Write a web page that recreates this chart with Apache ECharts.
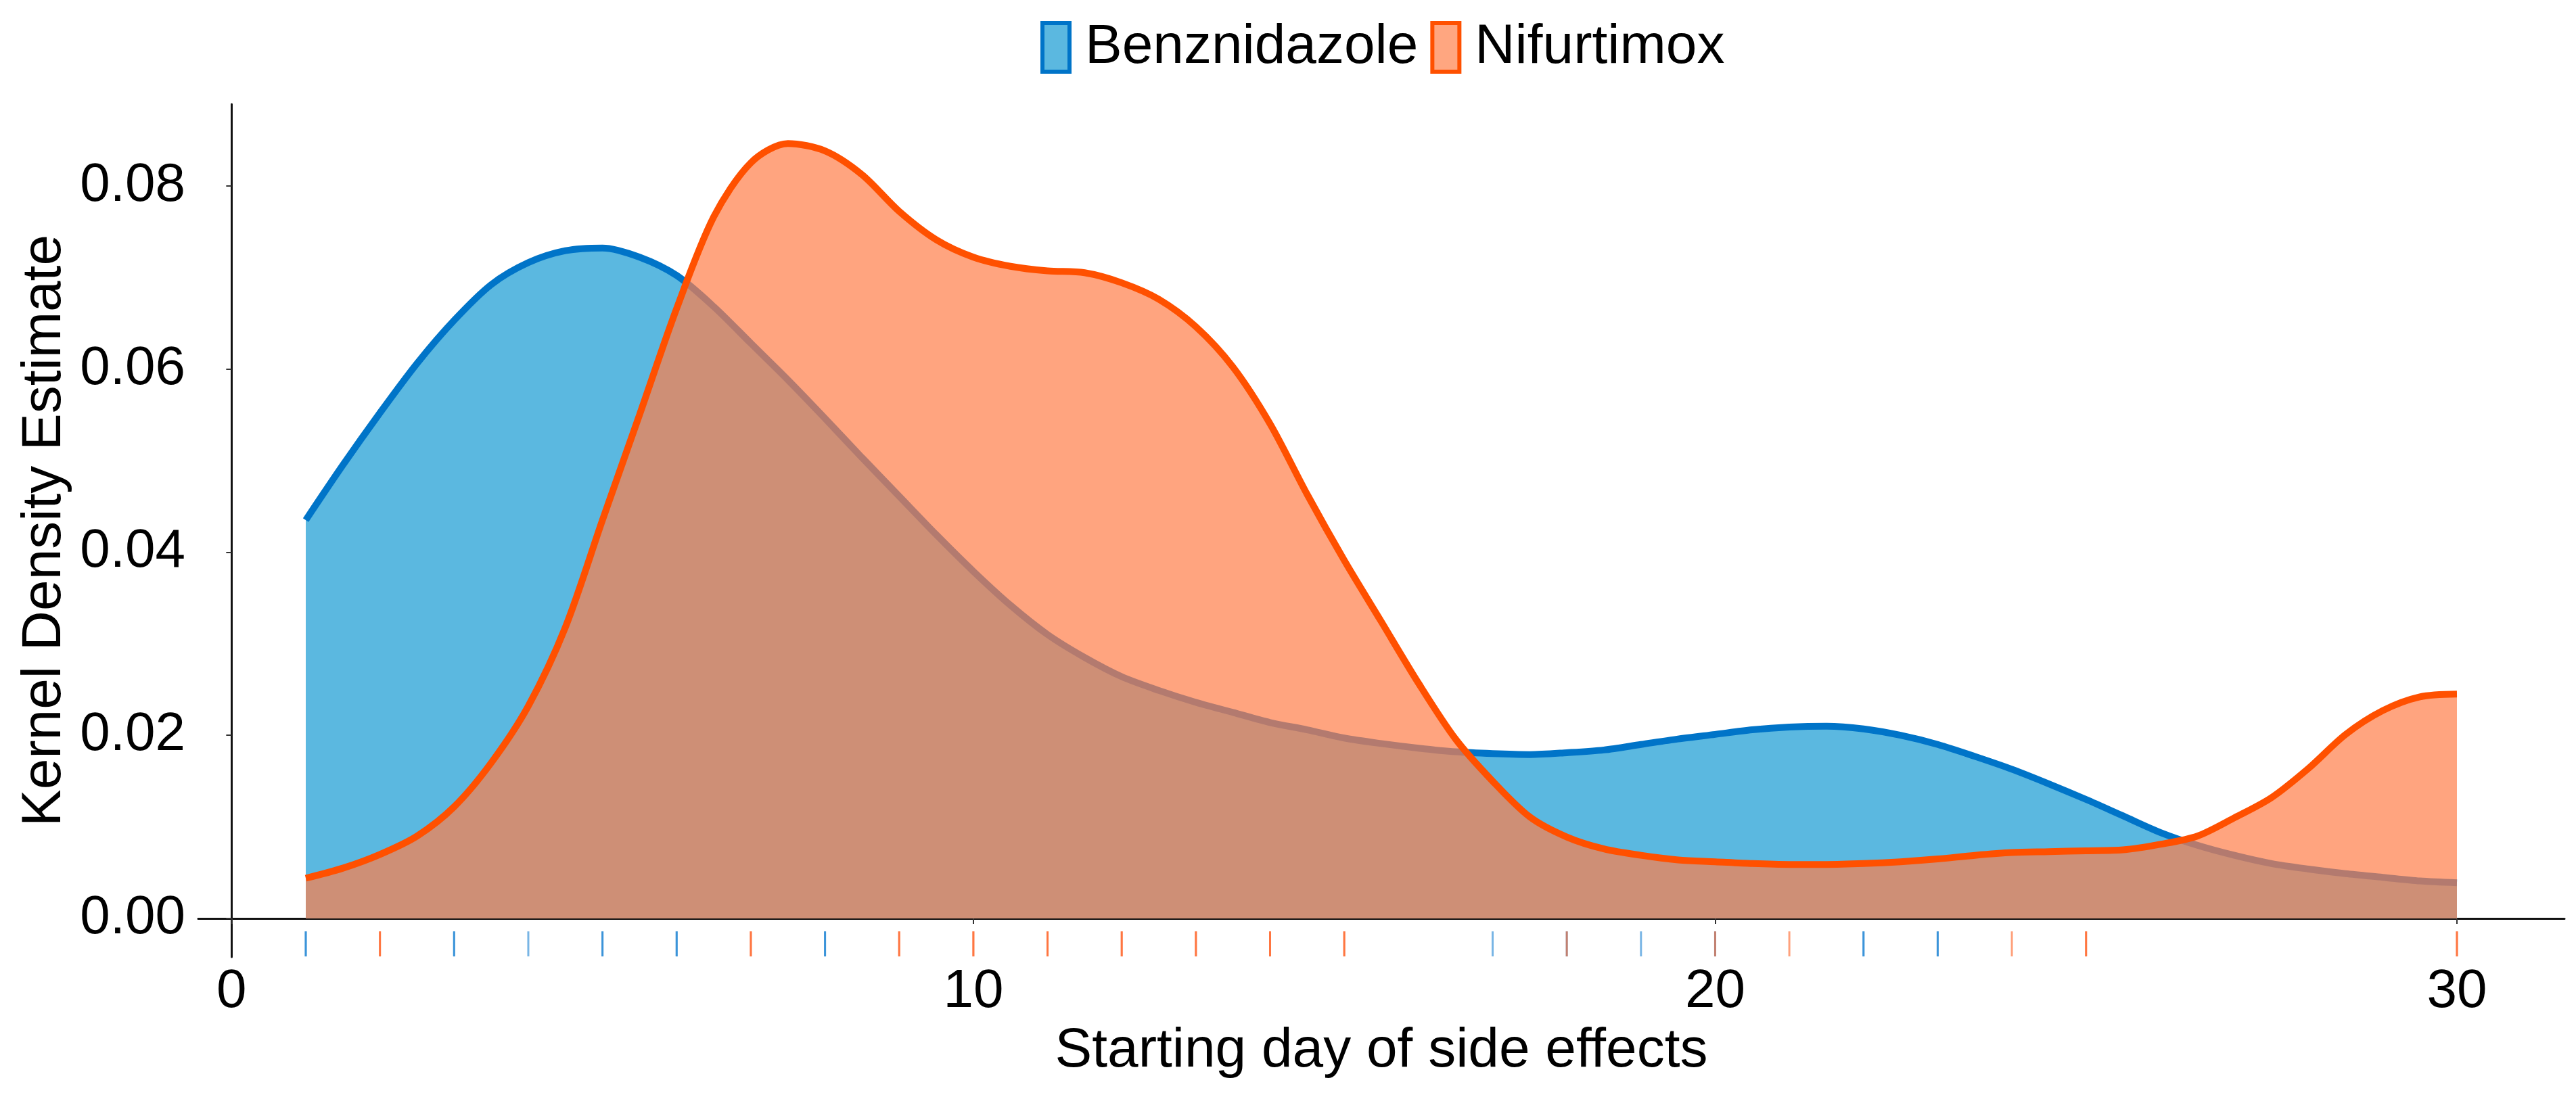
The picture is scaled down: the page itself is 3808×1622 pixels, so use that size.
<!DOCTYPE html>
<html><head><meta charset="utf-8">
<script src="https://cdn.jsdelivr.net/npm/echarts@6/dist/echarts.min.js"></script>
<style>html,body{margin:0;padding:0;background:#fff;} #c{width:3808px;height:1622px;}</style>
</head><body><div id="c"></div>
<script>
// Starting day grid (x) and kernel density estimates
const days = [1,1.5,2,2.5,3,3.5,4,4.5,5,5.5,6,6.5,7,7.5,8,8.5,9,9.5,10,10.5,11,11.5,12,12.5,13,13.5,14,14.5,15,15.5,16,16.5,17,17.5,18,18.5,19,19.5,20,20.5,21,21.5,22,22.5,23,23.5,24,24.5,25,25.5,26,26.5,27,27.5,28,28.5,29,29.5,30];
const benznidazole = [0.0435,0.0495,0.0552,0.0606,0.0653,0.0692,0.0716,0.0729,0.0732,0.0722,0.0702,0.0668,0.0628,0.0588,0.0546,0.0503,0.0461,0.0419,0.0379,0.0342,0.0310,0.0285,0.0264,0.0249,0.0236,0.0225,0.0214,0.0206,0.0197,0.0191,0.0186,0.0182,0.0180,0.0179,0.0181,0.0184,0.0190,0.0196,0.0201,0.0206,0.0209,0.0210,0.0207,0.0200,0.0190,0.0177,0.0163,0.0147,0.0130,0.0112,0.0094,0.0080,0.0069,0.0060,0.0054,0.0049,0.0045,0.0041,0.0039];
const nifurtimox = [0.0044,0.0055,0.0070,0.0090,0.0122,0.0170,0.0232,0.0318,0.0435,0.0550,0.0666,0.0766,0.0825,0.0846,0.0838,0.0812,0.0772,0.0741,0.0722,0.0712,0.0707,0.0705,0.0694,0.0676,0.0646,0.0602,0.0540,0.0463,0.0391,0.0324,0.0257,0.0196,0.0150,0.0111,0.0089,0.0076,0.0069,0.0064,0.0062,0.0060,0.0059,0.0059,0.0060,0.0062,0.0065,0.0069,0.0072,0.0073,0.0074,0.0075,0.0081,0.0090,0.0110,0.0132,0.0164,0.0201,0.0227,0.0242,0.0245];
// Rug observations (starting days)
const benzRug = [1,1,3,3,4,5,5,6,6,8,8,17,18,19,20,22,22,23,23];
const nifRug = [2,2,7,7,9,9,10,10,11,11,12,12,13,13,14,14,15,15,18,20,21,24,25,25,30,30];
const xTicks = [0,10,20,30];
const yTicks = [0,0.02,0.04,0.06,0.08];
const seriesNames = ['Benznidazole','Nifurtimox'];

const FONT = "'Liberation Sans', Arial, sans-serif";
const RUG_Y = -0.00277;
const pair = (xs, ys) => xs.map((x, i) => [x, ys[i]]);
const rug = xs => xs.map(x => [x, RUG_Y]);

const chart = echarts.init(document.getElementById('c'), null, {renderer: 'canvas'});
chart.setOption({
  animation: false,
  backgroundColor: '#ffffff',
  textStyle: {fontFamily: FONT, color: '#000'},
  legend: {
    left: 1533, top: 24,
    itemWidth: 40, itemHeight: 72, itemGap: 18,
    textStyle: {fontSize: 82, fontFamily: FONT, color: '#000', padding: [0, 0, 0, 18]},
    data: [
      {name: seriesNames[0], icon: 'rect', itemStyle: {color: '#5BB8E0', borderColor: '#0074C8', borderWidth: 6}},
      {name: seriesNames[1], icon: 'rect', itemStyle: {color: '#FFA680', borderColor: '#FF5000', borderWidth: 6}}
    ]
  },
  grid: {left: 293, right: 17, top: 154, bottom: 207, containLabel: false},
  xAxis: {
    type: 'value', min: -0.45, max: 31.45,
    name: 'Starting day of side effects', nameLocation: 'middle', nameGap: 98,
    nameTextStyle: {fontSize: 82, fontFamily: FONT, color: '#000'},
    axisLine: {show: true, lineStyle: {color: '#111', width: 3}},
    axisTick: {show: true, length: 8, lineStyle: {color: '#333', width: 2}, customValues: xTicks},
    axisLabel: {fontSize: 80, color: '#000', fontFamily: FONT, margin: 12, customValues: xTicks, formatter: v => String(v)},
    splitLine: {show: false}
  },
  yAxis: {
    type: 'value', min: -0.0042, max: 0.0889,
    name: 'Kernel Density Estimate', nameLocation: 'middle', nameGap: 180, nameRotate: 90,
    nameTextStyle: {fontSize: 82, fontFamily: FONT, color: '#000'},
    axisLine: {show: true, lineStyle: {color: '#111', width: 3}},
    axisTick: {show: true, length: 8, lineStyle: {color: '#333', width: 2}, customValues: yTicks},
    axisLabel: {fontSize: 80, color: '#000', fontFamily: FONT, margin: 19, customValues: yTicks, formatter: v => v.toFixed(2)},
    splitLine: {show: false}
  },
  series: [
    {
      name: seriesNames[0], type: 'line', data: pair(days, benznidazole),
      smooth: 0.3, showSymbol: false, symbol: 'none', z: 2,
      itemStyle: {color: '#0074C8'},
      lineStyle: {color: '#0074C8', width: 10},
      areaStyle: {color: '#5BB8E0', opacity: 1, origin: 'auto'}
    },
    {
      name: seriesNames[1], type: 'line', data: pair(days, nifurtimox),
      smooth: 0.3, showSymbol: false, symbol: 'none', z: 3,
      itemStyle: {color: '#FF5000'},
      lineStyle: {color: '#FF5000', width: 10},
      areaStyle: {color: 'rgb(255,125,72)', opacity: 0.7, origin: 'auto'}
    },
    {
      name: seriesNames[0] + ' rug', type: 'scatter', data: rug(benzRug),
      symbol: 'rect', symbolSize: [3, 37], z: 4, silent: true,
      itemStyle: {color: '#0A78D0', opacity: 0.55}
    },
    {
      name: seriesNames[1] + ' rug', type: 'scatter', data: rug(nifRug),
      symbol: 'rect', symbolSize: [3, 37], z: 5, silent: true,
      itemStyle: {color: '#FF5410', opacity: 0.55}
    }
  ]
});
</script>
</body></html>
